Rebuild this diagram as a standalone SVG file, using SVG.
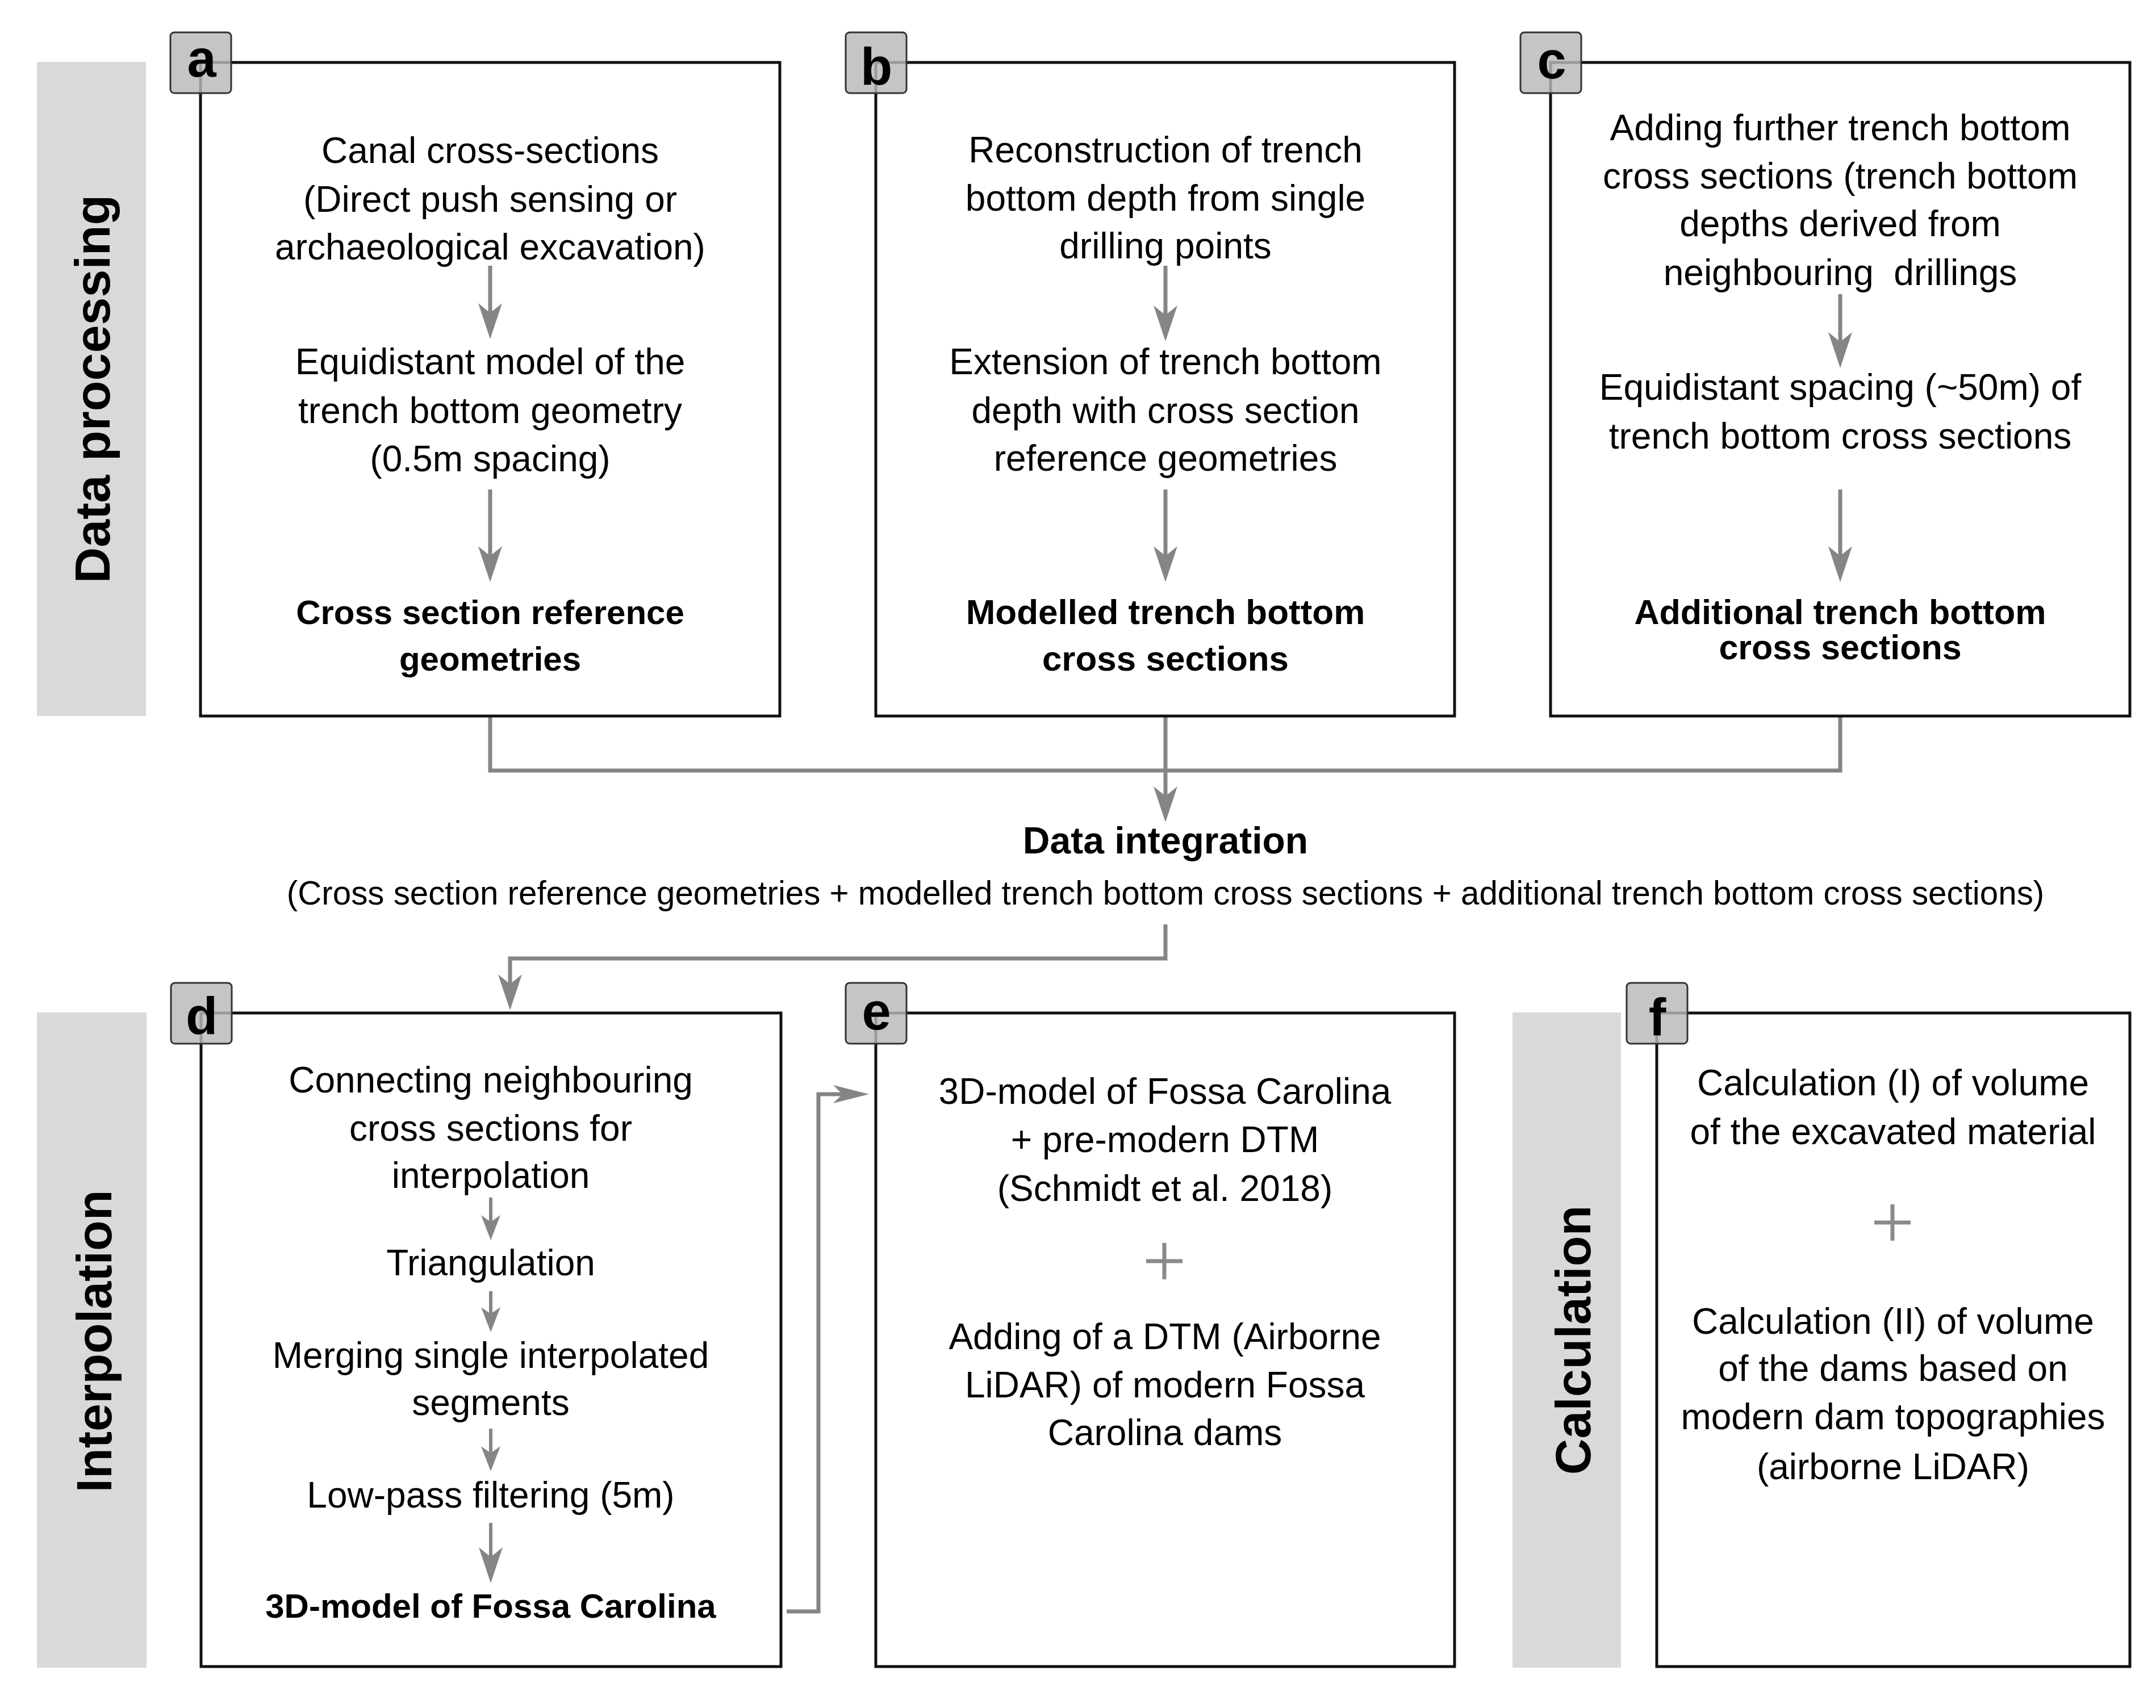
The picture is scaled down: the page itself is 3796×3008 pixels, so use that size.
<svg xmlns="http://www.w3.org/2000/svg" width="3796" height="3008" viewBox="0 0 3796 3008">
<style>
.bar{fill:#d9d9d9}
.box{fill:#fff;stroke:#111;stroke-width:5}
.tab{fill:#b8b8b8;fill-opacity:0.82;stroke:#333;stroke-width:3}
.tl{font-family:"Liberation Sans",Arial,sans-serif;font-weight:bold;font-size:92px;fill:#000;text-anchor:middle}
.t{font-family:"Liberation Sans",Arial,sans-serif;font-size:64px;fill:#000;text-anchor:middle}
.b{font-family:"Liberation Sans",Arial,sans-serif;font-size:60px;font-weight:bold;fill:#000;text-anchor:middle}
.side{font-family:"Liberation Sans",Arial,sans-serif;font-size:88px;font-weight:bold;fill:#000;text-anchor:middle}
.con{fill:none;stroke:#858585;stroke-width:7}
.ar{fill:none;stroke:#858585;stroke-width:7}
.ars{fill:none;stroke:#858585;stroke-width:6}
.plus{stroke:#8a8a8a;stroke-width:7}
</style>
<defs>
<marker id="ah" viewBox="-66 -23 68 46" refX="-30" refY="0" markerWidth="68" markerHeight="46" markerUnits="userSpaceOnUse" orient="auto"><path d="M0,0 L-63,-21 L-46,0 L-63,21 Z" fill="#858585"/></marker>
<marker id="ahs" viewBox="-46 -19 48 38" refX="-20" refY="0" markerWidth="48" markerHeight="38" markerUnits="userSpaceOnUse" orient="auto"><path d="M0,0 L-44,-17 L-32,0 L-44,17 Z" fill="#858585"/></marker>
<marker id="ahe" viewBox="-66 -18 68 36" refX="-30" refY="0" markerWidth="68" markerHeight="36" markerUnits="userSpaceOnUse" orient="auto"><path d="M0,0 L-63,-16 L-47,0 L-63,16 Z" fill="#858585"/></marker>
</defs>
<rect width="3796" height="3008" fill="#fff"/>

<g id="bar-data-processing">
<rect class="bar" x="65" y="109" width="192" height="1152"/>
<text class="side" transform="translate(193,685) rotate(-90)">Data processing</text>
</g>
<g id="bar-interpolation">
<rect class="bar" x="65" y="1783" width="193" height="1154"/>
<text class="side" transform="translate(196,2362) rotate(-90)">Interpolation</text>
</g>
<g id="bar-calculation">
<rect class="bar" x="2663" y="1783" width="191" height="1154"/>
<text class="side" transform="translate(2800,2360) rotate(-90)">Calculation</text>
</g>

<g id="connectors">
<path class="con" d="M863,1261 V1357 H3240 V1261"/>
<path class="con" d="M2052,1261 V1418" marker-end="url(#ah)"/>
<path class="con" d="M2052,1628 V1688 H898 V1749" marker-end="url(#ah)"/>
<path class="con" d="M1385,2838 H1441 V1927 H1500" marker-end="url(#ahe)"/>
</g>

<g id="node-a">
<rect class="box" x="353" y="110" width="1020" height="1151"/>
<rect class="tab" x="300" y="57" width="107" height="107" rx="7"/>
<text class="tl" x="355" y="135">a</text>
<text class="t" x="863" y="287">Canal cross-sections</text>
<text class="t" x="863" y="373">(Direct push sensing or</text>
<text class="t" x="863" y="457">archaeological excavation)</text>
<line class="ar" x1="863" y1="468" x2="863" y2="567" marker-end="url(#ah)"/>
<text class="t" x="863" y="659">Equidistant model of the</text>
<text class="t" x="863" y="745">trench bottom geometry</text>
<text class="t" x="863" y="830">(0.5m spacing)</text>
<line class="ar" x1="863" y1="862" x2="863" y2="995" marker-end="url(#ah)"/>
<text class="b" x="863" y="1099">Cross section reference</text>
<text class="b" x="863" y="1181">geometries</text>
</g>

<g id="node-b">
<rect class="box" x="1542" y="110" width="1019" height="1151"/>
<rect class="tab" x="1489" y="57" width="107" height="107" rx="7"/>
<text class="tl" x="1543" y="149">b</text>
<text class="t" x="2052" y="286">Reconstruction of trench</text>
<text class="t" x="2052" y="371">bottom depth from single</text>
<text class="t" x="2052" y="455">drilling points</text>
<line class="ar" x1="2052" y1="468" x2="2052" y2="571" marker-end="url(#ah)"/>
<text class="t" x="2052" y="659">Extension of trench bottom</text>
<text class="t" x="2052" y="745">depth with cross section</text>
<text class="t" x="2052" y="829">reference geometries</text>
<line class="ar" x1="2052" y1="862" x2="2052" y2="995" marker-end="url(#ah)"/>
<text class="b" x="2052" y="1099" style="font-size:62px">Modelled trench bottom</text>
<text class="b" x="2052" y="1181" style="font-size:62px">cross sections</text>
</g>

<g id="node-c">
<rect class="box" x="2730" y="110" width="1020" height="1151"/>
<rect class="tab" x="2677" y="57" width="107" height="107" rx="7"/>
<text class="tl" x="2732" y="138">c</text>
<text class="t" x="3240" y="247">Adding further trench bottom</text>
<text class="t" x="3240" y="332">cross sections (trench bottom</text>
<text class="t" x="3240" y="416">depths derived from</text>
<text class="t" x="3240" y="502" xml:space="preserve">neighbouring  drillings</text>
<line class="ar" x1="3240" y1="518" x2="3240" y2="618" marker-end="url(#ah)"/>
<text class="t" x="3240" y="704">Equidistant spacing (~50m) of</text>
<text class="t" x="3240" y="790">trench bottom cross sections</text>
<line class="ar" x1="3240" y1="862" x2="3240" y2="995" marker-end="url(#ah)"/>
<text class="b" x="3240" y="1099" style="font-size:61px">Additional trench bottom</text>
<text class="b" x="3240" y="1161" style="font-size:61px">cross sections</text>
</g>

<g id="node-integration">
<text class="b" x="2052" y="1503" style="font-size:66px">Data integration</text>
<text class="t" x="2052" y="1593" style="font-size:58.3px">(Cross section reference geometries + modelled trench bottom cross sections + additional trench bottom cross sections)</text>
</g>

<g id="node-d">
<rect class="box" x="354" y="1784" width="1021" height="1151"/>
<rect class="tab" x="301" y="1731" width="107" height="107" rx="7"/>
<text class="tl" x="355" y="1821">d</text>
<text class="t" x="864" y="1924">Connecting neighbouring</text>
<text class="t" x="864" y="2009">cross sections for</text>
<text class="t" x="864" y="2092">interpolation</text>
<line class="ars" x1="864" y1="2109" x2="864" y2="2164" marker-end="url(#ahs)"/>
<text class="t" x="864" y="2246">Triangulation</text>
<line class="ars" x1="864" y1="2274" x2="864" y2="2326" marker-end="url(#ahs)"/>
<text class="t" x="864" y="2409">Merging single interpolated</text>
<text class="t" x="864" y="2492">segments</text>
<line class="ars" x1="864" y1="2516" x2="864" y2="2571" marker-end="url(#ahs)"/>
<text class="t" x="864" y="2655">Low-pass filtering (5m)</text>
<line class="ars" x1="864" y1="2682" x2="864" y2="2758" marker-end="url(#ah)"/>
<text class="b" x="864" y="2849">3D-model of Fossa Carolina</text>
</g>

<g id="node-e">
<rect class="box" x="1542" y="1784" width="1019" height="1151"/>
<rect class="tab" x="1489" y="1731" width="107" height="107" rx="7"/>
<text class="tl" x="1543" y="1813">e</text>
<text class="t" x="2051" y="1944">3D-model of Fossa Carolina</text>
<text class="t" x="2051" y="2029">+ pre-modern DTM</text>
<text class="t" x="2051" y="2115">(Schmidt et al. 2018)</text>
<path class="plus" d="M2018,2221 H2082 M2050,2189 V2253"/>
<text class="t" x="2051" y="2376">Adding of a DTM (Airborne</text>
<text class="t" x="2051" y="2461">LiDAR) of modern Fossa</text>
<text class="t" x="2051" y="2545">Carolina dams</text>
</g>

<g id="node-f">
<rect class="box" x="2917" y="1784" width="833" height="1151"/>
<rect class="tab" x="2864" y="1731" width="107" height="107" rx="7"/>
<text class="tl" x="2918" y="1823">f</text>
<text class="t" x="3333" y="1929">Calculation (I) of volume</text>
<text class="t" x="3333" y="2015">of the excavated material</text>
<path class="plus" d="M3300,2153 H3364 M3332,2121 V2185"/>
<text class="t" x="3333" y="2349">Calculation (II) of volume</text>
<text class="t" x="3333" y="2432">of the dams based on</text>
<text class="t" x="3333" y="2517">modern dam topographies</text>
<text class="t" x="3333" y="2605">(airborne LiDAR)</text>
</g>
</svg>
